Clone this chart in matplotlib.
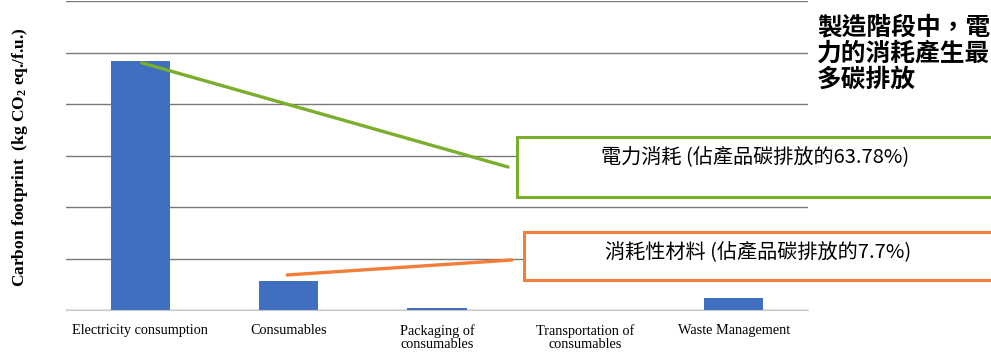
import matplotlib
matplotlib.use("Agg")
import matplotlib.pyplot as plt
from matplotlib.patches import Rectangle

# carbon footprint per manufacturing stage (kg CO2 eq./f.u.)
stages = ["Electricity consumption", "Consumables", "Packaging of\nconsumables",
          "Transportation of\nconsumables", "Waste Management"]
footprint = [4.83, 0.57, 0.03, 0.0, 0.23]

elec_note = "電力消耗 (佔產品碳排放的63.78%)"
cons_note = "消耗性材料 (佔產品碳排放的7.7%)"
headline = "製造階段中，電\n力的消耗產生最\n多碳排放"

W, H = 991, 353
BLUE = "#3F6FBE"
GREEN = "#7AAE2C"
ORANGE = "#F27E3A"
CJK = ["Noto Sans CJK TC", "DejaVu Sans"]

plt.rcParams["mathtext.default"] = "regular"

fig = plt.figure(figsize=(W / 100, H / 100), dpi=100)


def fx(x):
    return x / W


def fy(y):
    return 1 - y / H


ax = fig.add_axes([fx(66), fy(310), fx(808) - fx(66), fy(1) - fy(310)])
xs = list(range(len(stages)))
ax.bar(xs, footprint, width=0.4, color=BLUE, zorder=2)
ax.set_xlim(-0.5, len(stages) - 0.5)
ax.set_ylim(0, 6)
ax.set_yticks(range(7))
ax.set_yticklabels([])
ax.tick_params(axis="y", length=0)
ax.grid(axis="y", color="#7a7a7a", lw=1.0, zorder=0)
for s in ["top", "left", "right"]:
    ax.spines[s].set_visible(False)
ax.spines["bottom"].set_color("#c8c8c8")
ax.set_xticks(xs)
ax.set_xticklabels(stages, family="Liberation Serif", fontsize=10.3,
                   linespacing=1.0)
ax.tick_params(axis="x", length=0, pad=10)

fig.text(fx(20), fy(157), "Carbon footprint  (kg CO$_2$ eq./f.u.)",
         rotation=90, ha="center", va="center", family="Liberation Serif",
         fontweight="bold", fontsize=12.5)

# call-out lines from the bars to the note boxes
ax.annotate("", xy=(0.01, 4.8), xycoords="data",
            xytext=(fx(508), fy(167)), textcoords="figure fraction",
            arrowprops=dict(arrowstyle="-", color=GREEN, lw=2.4,
                            shrinkA=0, shrinkB=0), annotation_clip=False)
ax.annotate("", xy=(0.99, 0.68), xycoords="data",
            xytext=(fx(512), fy(260)), textcoords="figure fraction",
            arrowprops=dict(arrowstyle="-", color=ORANGE, lw=2.4,
                            shrinkA=0, shrinkB=0), annotation_clip=False)

# note boxes, running off the right edge
fig.patches.append(Rectangle((fx(517), fy(197)), fx(500), fy(137) - fy(197),
                             transform=fig.transFigure, facecolor="white",
                             edgecolor=GREEN, lw=2.2, zorder=3))
fig.patches.append(Rectangle((fx(524), fy(280)), fx(500), fy(232) - fy(280),
                             transform=fig.transFigure, facecolor="white",
                             edgecolor=ORANGE, lw=2.2, zorder=3))
fig.text(fx(755), fy(157), elec_note, ha="center", va="center",
         family=CJK, fontsize=14.5, zorder=4)
fig.text(fx(758), fy(252), cons_note, ha="center", va="center",
         family=CJK, fontsize=14.5, zorder=4)

fig.text(fx(817), fy(15), headline, ha="left", va="top", family=CJK,
         fontweight="bold", fontsize=17.8, linespacing=1.12)

fig.savefig("out.png", dpi=100)
